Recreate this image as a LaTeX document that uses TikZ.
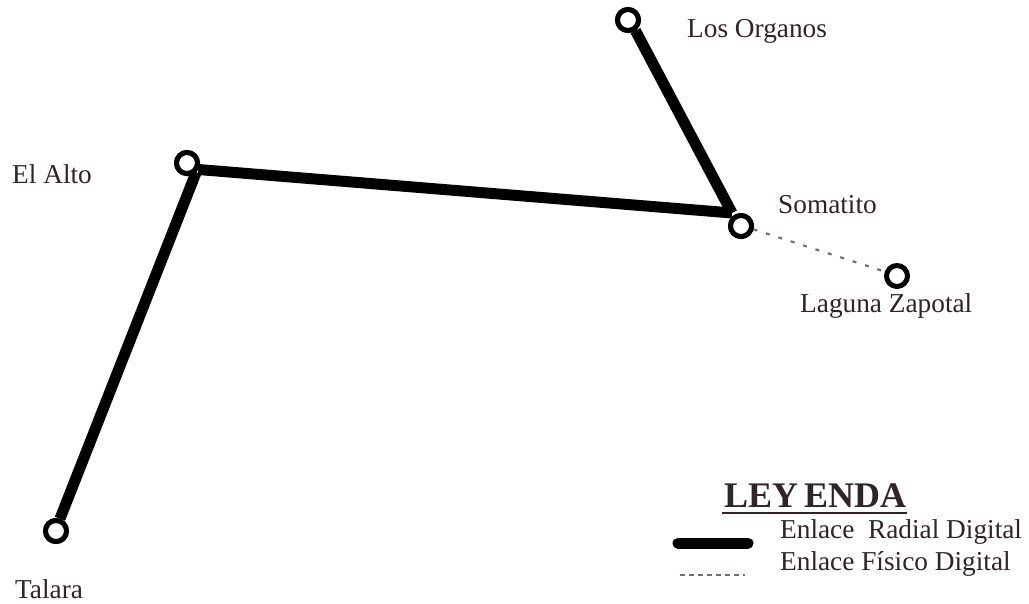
\documentclass[tikz,border=0pt]{standalone}
\usepackage{fontspec}
\setmainfont{Liberation Serif}
\definecolor{ink}{HTML}{2E2429}
\definecolor{dotc}{HTML}{7A6A78}
\begin{document}
\begin{tikzpicture}[x=1pt,y=-1pt,
  site/.style={circle,draw=black,line width=5pt,fill=white,minimum size=21pt,inner sep=0pt},
  radial/.style={line width=11pt,black},
  fisico/.style={line width=2.2pt,dotc,dash pattern=on 4pt off 9pt},
  lbl/.style={font=\fontsize{27.3}{30}\selectfont,text=ink,inner sep=0pt,anchor=base west}]
\useasboundingbox (0,0) rectangle (1029,603);
\fill[white] (0,0) rectangle (1029,603);
% sites
\node[site] (lo) at (628,20) {};
\node[site] (ea) at (187,163) {};
\node[site] (so) at (741,226) {};
\node[site] (lz) at (897,276) {};
\node[site] (ta) at (56,531) {};
\coordinate (j) at (732,213);
% links
\draw[radial] (lo.-55) -- (j);
\draw[radial] (ea.-30) -- (j);
\draw[radial] (ea.-45) -- (ta.72);
\draw[fisico] (so.-15) -- (lz.160);
% redraw circles on top
\node[site] at (lo) {};
\node[site] at (ea) {};
\node[site] at (so) {};
\node[site] at (ta) {};
% labels
\node[lbl] (tlo) at (687,37) {Los Organos};
\node[lbl] (tea) at (12,183) {El Alto};
\node[lbl] (tso) at (778,213) {Somatito};
\node[lbl] (tlz) at (800,312) {Laguna Zapotal};
\node[lbl] (tta) at (15,598) {Talara};
% legend
\node[inner sep=0pt,anchor=base west,text=ink,font=\fontsize{36}{38}\selectfont\bfseries] (ley) at (724,507) {LEY\,ENDA};
\coordinate (ul1) at (722,513);
\coordinate (ul2) at (907,513);
\draw[line width=1.8pt,ink] (ul1) -- (ul2);
\node[lbl] (t1) at (780,538) {Enlace\ \ Radial Digital};
\node[lbl] (t2) at (780,570) {Enlace Físico Digital};
\coordinate (r1) at (678,543);
\coordinate (r2) at (748,543);
\draw[radial,line cap=round] (r1) -- (r2);
\coordinate (f1) at (680,575);
\coordinate (f2) at (745,575);
\draw[line width=1.2pt,dotc,dash pattern=on 5pt off 4pt] (f1) -- (f2);
\end{tikzpicture}
\end{document}
